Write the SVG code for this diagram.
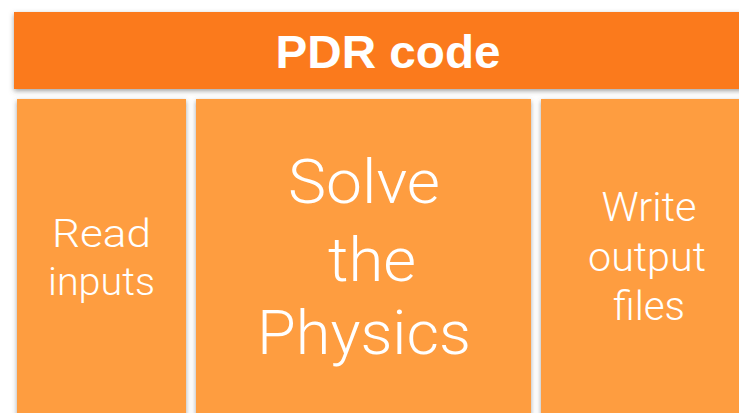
<svg xmlns="http://www.w3.org/2000/svg" width="739" height="413" viewBox="0 0 739 413">
<defs>
<filter id="sh" x="-10%" y="-10%" width="120%" height="130%">
<feDropShadow dx="0" dy="2" stdDeviation="2.5" flood-color="#555" flood-opacity="0.55"/>
</filter>
<style>
.bar{fill:#FB7A1D}
.box{fill:#FE9D41}
.t{fill:#fff;font-family:Roboto,"Liberation Sans",sans-serif;font-weight:300;text-anchor:middle}
.h{fill:#fff;font-family:"Liberation Sans",Arial,sans-serif;font-weight:bold;font-size:47px;text-anchor:middle}
</style>
</defs>
<rect width="739" height="413" fill="#fff"/>
<g id="read-inputs">
<rect class="box" x="17" y="99" width="169" height="330" filter="url(#sh)"/>
<text class="t" font-size="39"><tspan x="101.5" y="247" textLength="99" lengthAdjust="spacingAndGlyphs">Read</tspan><tspan x="101.5" y="295" textLength="107" lengthAdjust="spacingAndGlyphs">inputs</tspan></text>
</g>
<g id="solve-physics">
<rect class="box" x="196" y="99" width="335" height="330" filter="url(#sh)"/>
<text class="t" font-size="61"><tspan x="364" y="203" textLength="152" lengthAdjust="spacingAndGlyphs">Solve</tspan><tspan x="372" y="281" textLength="88" lengthAdjust="spacingAndGlyphs">the</tspan><tspan x="364" y="354" textLength="214" lengthAdjust="spacingAndGlyphs">Physics</tspan></text>
</g>
<g id="write-output">
<rect class="box" x="541" y="99" width="220" height="330" filter="url(#sh)"/>
<text class="t" font-size="41"><tspan x="649" y="221" textLength="95" lengthAdjust="spacingAndGlyphs">Write</tspan><tspan x="647" y="271" textLength="118" lengthAdjust="spacingAndGlyphs">output</tspan><tspan x="649" y="320" textLength="72" lengthAdjust="spacingAndGlyphs">files</tspan></text>
</g>
<g id="pdr-code">
<rect class="bar" x="14" y="12" width="760" height="77" filter="url(#sh)"/>
<text class="h" x="388" y="68" textLength="225" lengthAdjust="spacingAndGlyphs">PDR code</text>
</g>
<g id="connectors"/>
</svg>
